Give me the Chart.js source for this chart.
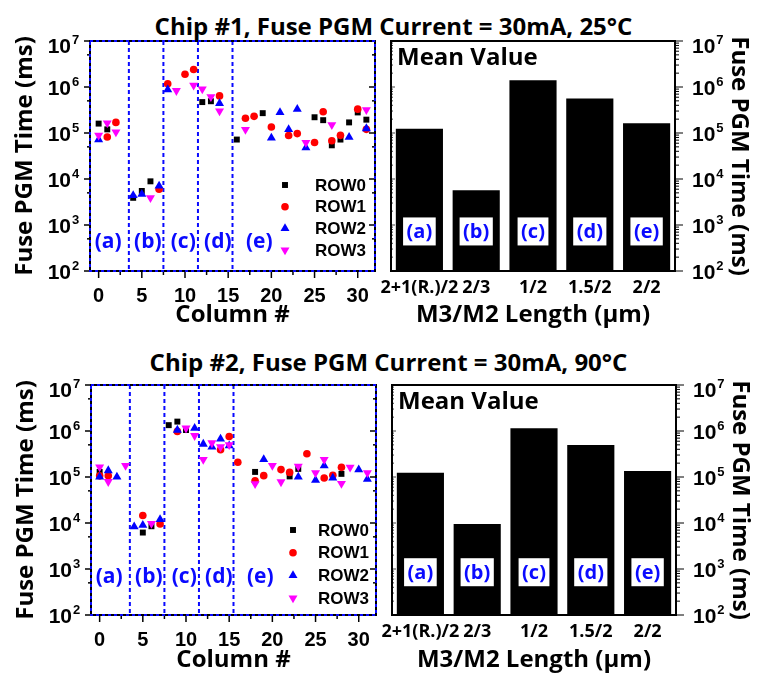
<!DOCTYPE html>
<html>
<head>
<meta charset="utf-8">
<script src="https://cdn.jsdelivr.net/npm/chart.js@4.4.0/dist/chart.umd.min.js"></script>
<style>
  body { margin: 0; background: #fff; width: 771px; height: 675px; position: relative; overflow: hidden; }
  canvas { position: absolute; }
  .ttl { position: absolute; left: 0; width: 771px; height: 28px; line-height: 28px; text-align: center;
         font: bold 24px 'Open Sans', sans-serif; color: #000; white-space: nowrap; }
</style>
</head>
<body>
<div class="ttl" style="top:9px; left:8px">Chip #1, Fuse PGM Current = 30mA, 25°C</div>
<div class="ttl" style="top:345px; left:3px">Chip #2, Fuse PGM Current = 30mA, 90°C</div>
<canvas id="scatter1" width="390" height="330" style="left:0; top:0"></canvas>
<canvas id="bar1" width="416" height="330" style="left:355px; top:0"></canvas>
<canvas id="scatter2" width="390" height="345" style="left:1px; top:330px"></canvas>
<canvas id="bar2" width="416" height="345" style="left:356px; top:330px"></canvas>
<script>
// ---------- data ----------
const columns = [0, 1, 2, 3, 4, 5, 6, 7, 8, 9, 10, 11, 12, 13, 14, 15,
                 16, 17, 18, 19, 20, 21, 22, 23, 24, 25, 26, 27, 28, 29, 30, 31];
const columnTicks = [0, 5, 10, 15, 20, 25, 30];
const rowNames = ['ROW0', 'ROW1', 'ROW2', 'ROW3'];

// chip #1, 25°C (ms, null = no visible point)
const chip1Row0 = [1.6e5, 1.2e5, null, null, 3.9e3, 5.5e3, 8.9e3, null,
                   null, null, null, null, 4.7e5, 4.9e5, null, null,
                   7.2e4, null, null, 2.7e5, null, null, null, null,
                   null, 2.2e5, 1.9e5, 5.4e4, 7.2e4, 1.7e5, 2.8e5, 1.95e5];
const chip1Row1 = [null, 8.2e4, 1.7e5, null, null, null, null, 6.0e3,
                   1.18e6, null, 1.9e6, 2.4e6, null, null, 6.4e5, null,
                   null, 2.1e5, 2.3e5, null, 1.35e5, null, 8.8e4, 9.7e4,
                   null, 6.2e4, 2.9e5, 6.8e4, 8.9e4, null, 3.3e5, 1.2e5];
const chip1Row2 = [7.2e4, null, null, null, 4.4e3, 4.7e3, null, 7.1e3,
                   8.8e5, null, null, null, null, null, 4.4e5, null,
                   null, null, null, null, 7.8e4, 2.8e5, 1.19e5, 3.3e5,
                   4.8e4, null, null, null, null, 8.1e4, null, 1.25e5];
const chip1Row3 = [8.9e4, 1.65e5, 1.05e5, null, null, null, 3.9e3, null,
                   null, 8.3e5, null, 1.09e6, 9.0e5, 6.1e5, 3.0e5, null,
                   null, 1.19e5, null, null, null, null, null, null,
                   6.2e4, null, null, 1.5e5, null, null, null, 3.2e5];

// chip #2, 90°C
const chip2Row0 = [1.29e5, null, null, null, null, 6.2e3, 8.5e3, null,
                   1.34e6, 1.6e6, 1.05e6, null, null, null, null, null,
                   null, null, 1.29e5, null, null, null, 1.03e5, 1.5e5,
                   null, null, null, null, 1.17e5, null, null, null];
const chip2Row1 = [1.06e5, 1.06e5, null, null, null, 1.46e4, null, 9.5e3,
                   null, 9.8e5, null, null, null, null, 3.9e5, 7.6e5,
                   2.1e5, null, 8.3e4, 1.07e5, null, 1.45e5, 1.26e5, null,
                   3.2e5, null, 9.5e4, 1.09e5, 1.62e5, null, null, null];
const chip2Row2 = [1.0e5, 1.38e5, 1.0e5, null, 8.3e3, 9.0e3, null, 1.2e4,
                   null, 1.05e6, null, 1.15e6, 5.2e5, 4.5e5, 6.7e5, 4.8e5,
                   null, null, null, 2.4e5, null, null, null, 1.0e5,
                   null, 8.5e4, 1.77e5, 9.5e4, null, null, 1.45e5, 9.0e4];
const chip2Row3 = [1.65e5, 7.9e4, null, 1.77e5, null, null, 9.7e3, null,
                   null, null, 1.15e6, 7.9e5, 2.4e5, 5.5e5, 4.5e5, 5.0e5,
                   null, null, 7.1e4, null, 1.77e5, 7.8e4, null, 1.7e5,
                   null, 1.23e5, 2.4e5, null, 7.2e4, 1.62e5, null, 1.23e5];

// mean values per fuse type
const lengthLabels = ['2+1(R.)/2', '2/3', '1/2', '1.5/2', '2/2'];
const groupTags = ['(a)', '(b)', '(c)', '(d)', '(e)'];
const chip1Mean = [1.24e5, 5.7e3, 1.4e6, 5.6e5, 1.62e5];
const chip2Mean = [1.23e5, 9.5e3, 1.15e6, 4.95e5, 1.35e5];

// log axis decades
const exponents = [2, 3, 4, 5, 6, 7];
const groupBounds = [3.5, 7.5, 11.5, 15.5];

// ---------- styles ----------
const BLUE = '#0a0aff';
const rowColors = ['#000000', '#ff0000', '#0000ff', '#ff00ff'];
const rowStyles = ['rect', 'circle', 'triangle', 'triangle'];
const rowRotation = [0, 0, 0, 180];
const rowRadius = [4.2, 3.8, 5.2, 5.2];
const ARIAL = 'Liberation Sans';
const SANS = 'Open Sans';

// ---------- drawing helper plugin ----------
function line(ctx, x1, y1, x2, y2) {
  ctx.beginPath(); ctx.moveTo(x1, y1); ctx.lineTo(x2, y2); ctx.stroke();
}

function logTicks(ctx, scale, x, dir, majorLen, mults, minorLen) {
  exponents.forEach(e => {
    const d = Math.pow(10, e);
    line(ctx, x, scale.getPixelForValue(d), x + dir * majorLen, scale.getPixelForValue(d));
    if (e === 7) return;
    mults.forEach(m => {
      const y = scale.getPixelForValue(d * m);
      line(ctx, x, y, x + dir * minorLen, y);
    });
  });
}

function powLabels(ctx, scale, x, alignRight) {
  exponents.forEach(e => {
    let y = scale.getPixelForValue(Math.pow(10, e));
    if (e === 7) y += 4;
    ctx.font = 'bold 21px "' + ARIAL + '"';
    ctx.textBaseline = 'alphabetic';
    const w = ctx.measureText('10').width;
    const x0 = alignRight ? x - w : x;
    ctx.textAlign = 'left';
    ctx.fillText('10', x0, y + 7.5);
    ctx.font = 'bold 13px "' + ARIAL + '"';
    ctx.fillText(String(e), x0 + w + 1, y - 1.5);
  });
}

const decor = {
  id: 'decor',
  beforeDatasetsDraw(chart, args, o) {
    const ctx = chart.ctx, a = chart.chartArea, xs = chart.scales.x, ys = chart.scales.y;
    if (o.kind !== 'scatter') return;
    ctx.save();
    ctx.strokeStyle = BLUE; ctx.lineWidth = 2; ctx.setLineDash([4, 3]);
    groupBounds.forEach(b => line(ctx, xs.getPixelForValue(b), a.top, xs.getPixelForValue(b), a.bottom));
    ctx.setLineDash([]);
    ctx.fillStyle = BLUE;
    ctx.font = 'bold 21px "' + SANS + '"';
    ctx.textAlign = 'center'; ctx.textBaseline = 'middle';
    groupTags.forEach((t, i) => ctx.fillText(t, xs.getPixelForValue(o.tagX[i]), ys.getPixelForValue(o.tagY)));
    ctx.restore();
  },
  afterDatasetsDraw(chart, args, o) {
    const ctx = chart.ctx, a = chart.chartArea, xs = chart.scales.x, ys = chart.scales.y;
    ctx.save();
    ctx.fillStyle = '#000'; ctx.strokeStyle = '#000';
    if (o.kind === 'scatter') {
      // ticks
      ctx.lineWidth = 1.5;
      logTicks(ctx, ys, a.left, -1, 6, [5], 3);
      logTicks(ctx, ys, a.right, -1, 6, [5], 3);
      columnTicks.forEach(c => line(ctx, xs.getPixelForValue(c), a.bottom, xs.getPixelForValue(c), a.bottom + 7));
      columnTicks.slice(0, -1).forEach(c => line(ctx, xs.getPixelForValue(c + 2.5), a.bottom, xs.getPixelForValue(c + 2.5), a.bottom + 4));
      // frame, black under blue dashes
      ctx.lineWidth = 2;
      ctx.strokeRect(a.left, a.top, a.right - a.left, a.bottom - a.top);
      ctx.strokeStyle = BLUE; ctx.setLineDash([3, 3]);
      ctx.strokeRect(a.left, a.top, a.right - a.left, a.bottom - a.top);
      ctx.setLineDash([]);
      powLabels(ctx, ys, a.left - 19, true);
      // legend
      ctx.font = 'bold 17px "' + ARIAL + '"';
      ctx.textAlign = 'left'; ctx.textBaseline = 'middle';
      chart.data.datasets.forEach((ds, k) => {
        const y = a.top + o.legendTop + k * o.legendStep;
        ctx.fillStyle = ds.backgroundColor;
        Chart.helpers.drawPoint(ctx, { pointStyle: ds.pointStyle, rotation: ds.pointRotation, radius: ds.pointRadius, borderWidth: 0 }, a.right - o.legendMarker, y);
        ctx.fillStyle = '#000';
        ctx.fillText(ds.label, a.right - o.legendText, y + 1);
      });
    } else {
      // tag boxes on bars
      ctx.font = 'bold 20px "' + SANS + '"';
      ctx.textAlign = 'center'; ctx.textBaseline = 'middle';
      groupTags.forEach((t, i) => {
        const x = xs.getPixelForValue(i), y = ys.getPixelForValue(o.tagY);
        const w = ctx.measureText(t).width + 7;
        ctx.fillStyle = '#fff';
        ctx.fillRect(x - w / 2, y - 14, w, 28);
        ctx.fillStyle = BLUE;
        ctx.fillText(t, x, y + 1);
      });
      ctx.fillStyle = '#000';
      ctx.font = 'bold 24px "' + SANS + '"';
      ctx.textAlign = 'left';
      ctx.fillText('Mean Value', a.left + 6, a.top + o.titleY);
      // ticks
      ctx.lineWidth = 1;
      logTicks(ctx, ys, a.right, 1, 8, [2, 3, 4, 5, 6, 7, 8, 9], 4);
      ctx.strokeStyle = '#444';
      logTicks(ctx, ys, a.left, 1, 4, [2, 3, 4, 5, 6, 7, 8, 9], 2);
      ctx.strokeStyle = '#000';
      ctx.lineWidth = 2;
      ctx.strokeRect(a.left, a.top, a.right - a.left, a.bottom - a.top);
      powLabels(ctx, ys, a.right + 17, false);
    }
    ctx.restore();
  }
};

// ---------- chart builders ----------
function axisTitle(text, size, pad) {
  return { display: true, text: text, color: '#000', padding: pad,
           font: { family: SANS, weight: 'bold', size: size } };
}

function scatterChart(id, rows, cfg) {
  return new Chart(document.getElementById(id), {
    type: 'scatter',
    data: {
      datasets: rows.map((r, k) => ({
        label: rowNames[k],
        data: columns.map((c, i) => ({ x: c, y: r[i] })),
        backgroundColor: rowColors[k],
        pointStyle: rowStyles[k],
        pointRotation: rowRotation[k],
        pointRadius: rowRadius[k],
        pointBorderWidth: 0,
        order: 3 - k
      }))
    },
    options: {
      responsive: false, animation: false, events: [],
      layout: { padding: { left: 0, right: 15, top: cfg.top, bottom: 0 } },
      plugins: {
        legend: { display: false }, tooltip: { enabled: false },
        decor: { kind: 'scatter', tagX: [1.1, 5.7, 9.8, 13.8, 18.6], tagY: cfg.tagY,
                 legendTop: cfg.legendTop, legendStep: cfg.legendStep,
                 legendMarker: cfg.legendMarker, legendText: cfg.legendText }
      },
      scales: {
        x: {
          type: 'linear', min: -1, max: 32,
          afterBuildTicks: s => { s.ticks = columnTicks.map(v => ({ value: v })); },
          afterFit: s => { s.height = cfg.xh; },
          grid: { display: false, drawTicks: false }, border: { display: false },
          ticks: { color: '#000', padding: 13, maxRotation: 0, autoSkip: false,
                   font: { family: ARIAL, weight: 'bold', size: 20 } },
          title: axisTitle('Column #', 24, 0)
        },
        y: {
          type: 'logarithmic', min: 100, max: 1e7,
          afterFit: s => { s.width = 90; },
          grid: { display: false, drawTicks: false }, border: { display: false },
          ticks: { display: false },
          title: axisTitle('Fuse PGM Time (ms)', 24, { top: 11 })
        }
      }
    },
    plugins: [decor]
  });
}

function meanChart(id, means, cfg) {
  return new Chart(document.getElementById(id), {
    type: 'bar',
    data: {
      labels: lengthLabels,
      datasets: [{ data: means, backgroundColor: '#000', barPercentage: 0.83, categoryPercentage: 1 }]
    },
    options: {
      responsive: false, animation: false, events: [],
      layout: { padding: { left: 36, right: 0, top: cfg.top, bottom: 0 } },
      plugins: {
        legend: { display: false }, tooltip: { enabled: false },
        decor: { kind: 'bar', tagY: cfg.tagY, titleY: cfg.titleY }
      },
      scales: {
        x: {
          afterFit: s => { s.height = cfg.xh; },
          grid: { display: false, drawTicks: false }, border: { display: false },
          ticks: { color: '#000', padding: 6, maxRotation: 0, autoSkip: false,
                   font: { family: SANS, weight: 'bold', size: 18 } },
          title: axisTitle('M3/M2 Length (μm)', 24, 0)
        },
        y: {
          type: 'logarithmic', position: 'right', min: 100, max: 1e7,
          afterFit: s => { s.width = 96; },
          grid: { display: false, drawTicks: false }, border: { display: false },
          ticks: { display: false },
          title: axisTitle('Fuse PGM Time (ms)', 24, { top: 18 })
        }
      }
    },
    plugins: [decor]
  });
}

function build() {
  scatterChart('scatter1', [chip1Row0, chip1Row1, chip1Row2, chip1Row3],
    { top: 41, xh: 59, tagY: Math.pow(10, 2.63), legendTop: 144, legendStep: 21.7, legendMarker: 90, legendText: 60 });
  meanChart('bar1', chip1Mean, { top: 41, xh: 59, tagY: Math.pow(10, 2.86), titleY: 17 });
  scatterChart('scatter2', [chip2Row0, chip2Row1, chip2Row2, chip2Row3],
    { top: 55, xh: 60, tagY: Math.pow(10, 2.82), legendTop: 145, legendStep: 22.7, legendMarker: 83, legendText: 58 });
  meanChart('bar2', chip2Mean, { top: 55, xh: 60, tagY: Math.pow(10, 2.93), titleY: 17 });
}

Promise.all([
  document.fonts.load('bold 20px "Liberation Sans"'),
  document.fonts.load('bold 20px "Open Sans"')
]).then(build, build);
</script>
</body>
</html>
